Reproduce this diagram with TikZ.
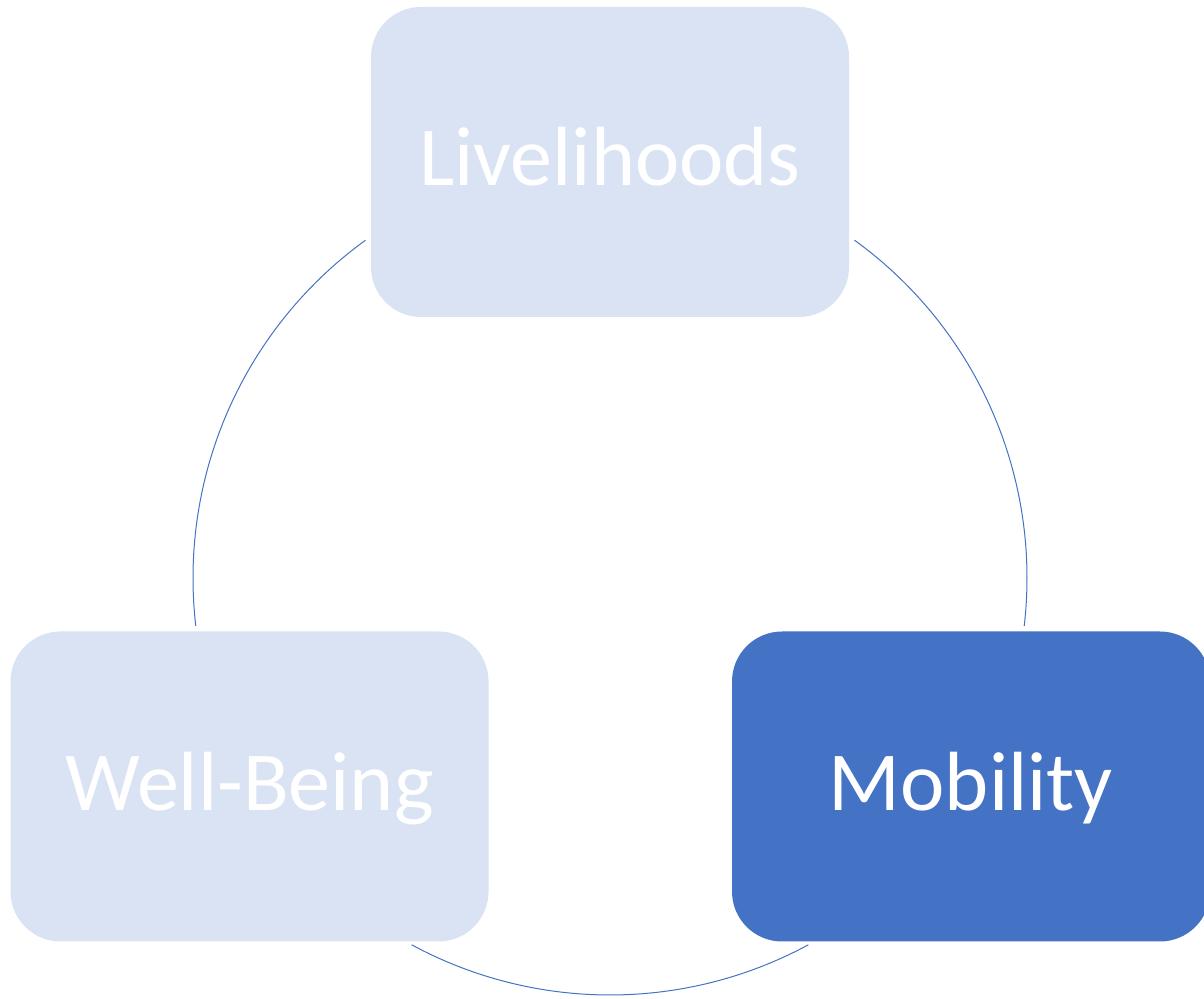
\documentclass[tikz,border=0pt]{standalone}
\usepackage{fontspec}
\setmainfont{Carlito}
\definecolor{lightbox}{HTML}{DAE3F3}
\definecolor{darkbox}{HTML}{4472C4}
\begin{document}
\begin{tikzpicture}[x=1pt,y=1pt,
  cyclebox/.style={rounded corners=50pt, minimum width=478pt, minimum height=310pt,
    inner sep=0pt, text=white, text height=60pt, text depth=12pt,
    font=\fontsize{84}{100}\selectfont},
  arcline/.style={draw=darkbox, line width=1pt}]
\useasboundingbox (0,0) rectangle (1204,998);
\clip (0,0) rectangle (1204,998);
\fill[white] (0,0) rectangle (1204,998);
\coordinate (c) at (610,420);
\node[cyclebox, fill=lightbox] (live) at (610,836) {Livelihoods};
\node[cyclebox, fill=lightbox] (well) at (249.5,211.5) {Well-Being};
\node[cyclebox, fill=darkbox] (mob) at (971,211.5) {Mobility};
\draw[arcline] (c) ++(125.9:417) arc[start angle=125.9, end angle=186.6, radius=417];
\draw[arcline] (c) ++(54.1:417) arc[start angle=54.1, end angle=-6.6, radius=417];
\draw[arcline] (c) ++(241.6:417) arc[start angle=241.6, end angle=298.4, radius=417];
\end{tikzpicture}
\end{document}
